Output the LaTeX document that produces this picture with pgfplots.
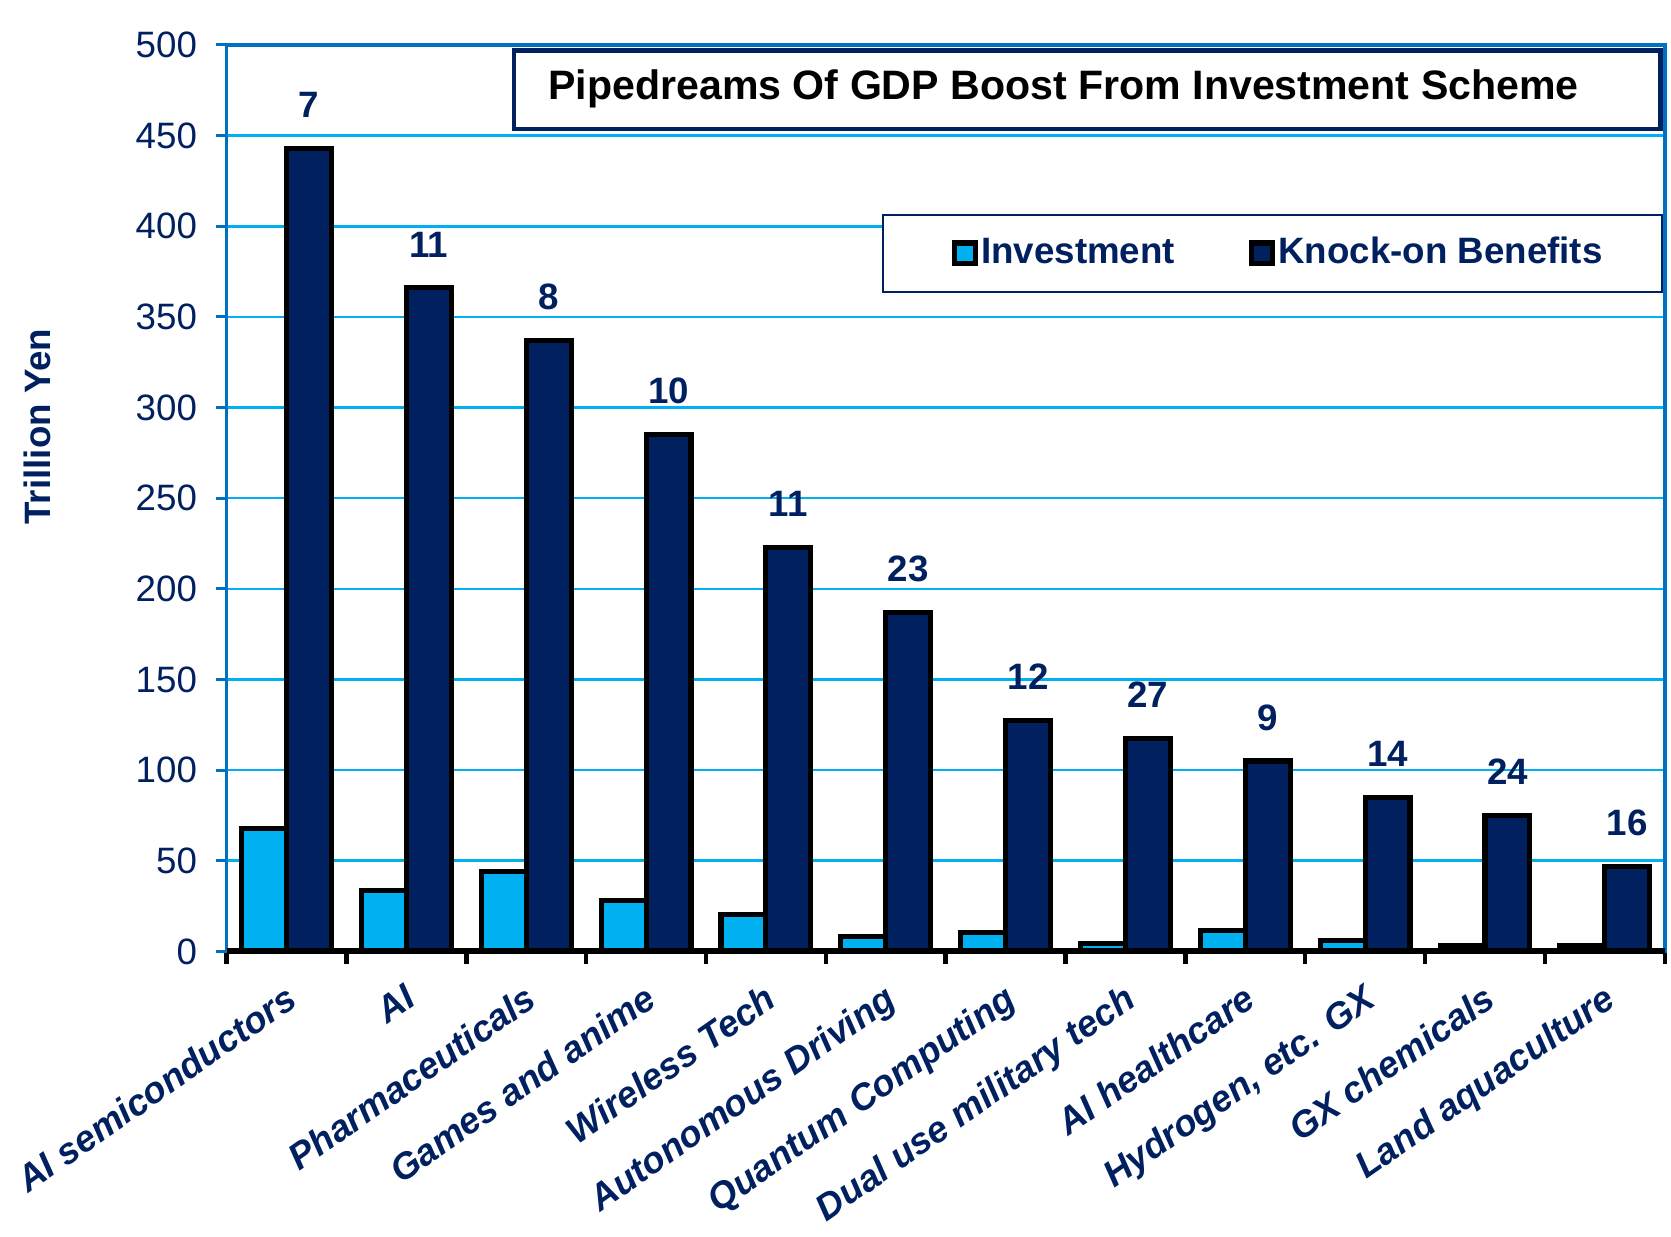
\documentclass[border=0pt]{standalone}
\usepackage{fontspec}
\setmainfont{Liberation Sans}
\usepackage{pgfplots}
\usepackage{pgfplotstable}
\pgfplotsset{compat=1.18}
\definecolor{navy}{HTML}{002060}
\definecolor{cyanbar}{HTML}{00B0F0}
\definecolor{axisblue}{HTML}{0070C0}
\pgfplotsset{sqlegend/.style={legend image code/.code={\path (-0.17cm,0); \draw[##1] (0cm,-0.1cm) rectangle (0.2cm,0.1cm);}}}
\pgfplotstableread{
x inv kob mult
0 68 443 7
1 33.5 366 11
2 44 337 8
3 28 285 10
4 20.5 223 11
5 8 187 23
6 10.5 127.5 12
7 4.3 117.5 27
8 11.5 105 9
9 6 85 14
10 3 75 24
11 3 47 16
}\datatable
\begin{document}
\begin{tikzpicture}
\useasboundingbox (-2.17,-2.73) rectangle (13.83,9.11);
\begin{axis}[
  at={(0,0)}, anchor=south west,
  scale only axis, width=13.77cm, height=8.68cm,
  clip mode=individual,
  ybar=0pt, bar width=0.43cm,
  xmin=-0.5, xmax=11.5, ymin=0, ymax=500,
  ytick={0,50,...,500},
  xtick={0,...,11},
  xticklabels={AI semiconductors, AI, Pharmaceuticals, Games and anime, Wireless Tech, Autonomous Driving, Quantum Computing, Dual use military tech, AI healthcare, {Hydrogen, etc. GX}, GX chemicals, Land aquaculture},
  major x tick style={draw=none},
  minor xtick={-0.5,0.5,...,11.5},
  minor tick length=0.12cm,
  major tick length=0.1cm,
  tick align=outside,
  xtick pos=left, ytick pos=left,
  minor x tick style={draw=black, line width=1.2pt},
  ytick style={axisblue, line width=0.8pt},
  ymajorgrids,
  major grid style={cyanbar, line width=0.7pt},
  axis line style={axisblue, line width=1pt},
  /pgf/number format/assume math mode=true,
  y tick label style={font=\fontsize{10}{12}\selectfont, text=navy, xshift=-0.06cm},
  x tick label style={rotate=35, anchor=north east, font=\fontsize{10}{12}\selectfont\bfseries\itshape, text=navy, inner sep=0pt, yshift=-0.14cm, xshift=-0.13cm},
  legend style={at={(rel axis cs:0.727,0.770)}, anchor=center, draw=navy, line width=0.6pt,
    font=\fontsize{10}{12}\selectfont\bfseries, text=navy, legend columns=2,
    inner xsep=0.495cm, inner ysep=0.145cm,
    /tikz/every odd column/.append style={column sep=-0.04cm},
    /tikz/every even column/.append style={column sep=0.47cm}},
]
\addplot[fill=cyanbar, draw=black, line width=1.4pt, sqlegend]
  table[x=x,y=inv]{\datatable};
\addlegendentry{Investment}
\addplot[fill=navy, draw=black, line width=1.4pt, sqlegend,
  nodes near coords, point meta=explicit symbolic,
  nodes near coords style={font=\fontsize{10}{12}\selectfont\bfseries, text=navy, anchor=south, yshift=0.15cm}]
  table[x=x,y=kob,meta=mult]{\datatable};
\addlegendentry{Knock-on Benefits}
\draw[black, line width=1.6pt] (rel axis cs:0,0) -- (rel axis cs:1,0);
\draw[navy, line width=1.2pt, fill=white] (rel axis cs:0.200,0.907) rectangle (rel axis cs:0.997,0.994);
\node[font=\fontsize{11.2}{13}\selectfont\bfseries, text=black] at (rel axis cs:0.582,0.951) {Pipedreams Of GDP Boost From Investment Scheme};
\node[rotate=90, font=\fontsize{10}{12}\selectfont\bfseries, text=navy] at (axis description cs:-0.1315,0.579) {Trillion Yen};
\end{axis}
\end{tikzpicture}
\end{document}
